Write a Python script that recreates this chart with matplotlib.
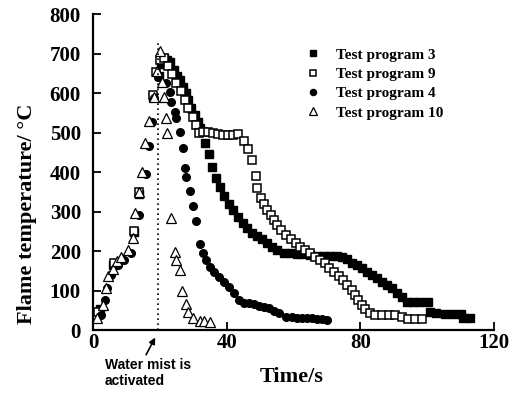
import matplotlib
matplotlib.use("Agg")
import matplotlib.pyplot as plt

plt.rcParams['font.family'] = ['Liberation Serif', 'DejaVu Serif']
plt.rcParams['font.weight'] = 'bold'

# Test program 3 (filled squares)
t3 = [1.9, 6.0, 12.1, 13.7, 17.7, 19.5, 20.3, 21.0, 22.0, 23.0, 24.0, 25.0, 25.8, 26.8, 27.6, 28.3, 29.3, 30.3, 31.2, 31.8,
      33.3, 34.5, 35.4, 36.6, 37.8, 39.2, 40.5, 41.7, 43.2, 44.7, 46.1, 47.6, 49.1, 50.6, 52.1, 53.6, 55.1, 57.1, 59.1,
      61.0, 63.0, 65.0, 67.0, 69.0, 71.0, 73.0, 74.4, 75.9, 77.4, 78.9, 80.4, 81.9, 83.4, 84.9, 86.4, 87.8, 89.3, 90.8,
      92.3, 93.8, 95.8, 97.8, 100.3, 100.8, 102.7, 105.2, 107.7, 110.2, 110.7, 112.7]
T3 = [55, 165, 250, 345, 590, 645, 675, 690, 685, 680, 660, 645, 634, 617, 600, 583, 562, 545, 528, 511,
      473, 446, 414, 385, 362, 340, 320, 305, 288, 271, 258, 246, 239, 230, 222, 212, 203, 196, 195,
      193, 193, 191, 188, 188, 188, 188, 186, 180, 171, 165, 157, 148, 140, 132, 123, 115, 106, 94,
      85, 72, 72, 72, 72, 47, 43, 41, 41, 41, 30, 30]

# Test program 9 (open squares)
t9 = [1.5, 6.3, 12.1, 13.7, 17.7, 18.8, 19.8, 21.0, 22.2, 23.5, 24.8, 26.3, 27.3, 28.3, 29.8, 30.8, 31.5, 32.9, 34.3,
      35.7, 37.2, 38.7, 40.2, 41.7, 43.4, 45.0, 46.4, 47.6, 48.6, 49.1, 50.1, 51.1, 52.1, 53.1, 54.1, 55.1, 56.1, 57.6,
      59.1, 60.6, 62.0, 63.5, 65.0, 66.5, 68.0, 69.5, 70.5, 72.0, 73.5, 74.9, 75.9, 77.4, 78.4, 79.4, 80.4, 81.4, 82.9,
      84.4, 86.4, 88.4, 90.3, 92.3, 94.3, 96.3, 98.3]
T9 = [47, 170, 252, 351, 596, 654, 685, 690, 670, 650, 625, 606, 583, 562, 541, 520, 500, 503, 503,
      500, 497, 495, 495, 495, 497, 479, 458, 430, 391, 359, 334, 321, 305, 292, 279, 267, 254, 241,
      230, 220, 212, 203, 195, 186, 178, 170, 157, 148, 137, 127, 115, 102, 89, 77, 64, 53, 43,
      39, 39, 39, 39, 34, 29, 29, 29]

# Test program 4 (filled circles)
t4 = [2.4, 3.4, 4.0, 5.3, 7.3, 9.3, 11.3, 13.6, 15.9, 16.7, 17.4, 18.1, 19.3, 21.8, 22.8, 23.3, 24.3, 24.8, 25.8,
      26.8, 27.3, 27.8, 28.8, 29.8, 30.6, 31.8, 32.7, 33.7, 35.0, 36.2, 37.7, 39.2, 40.7, 42.2, 43.7, 45.1, 46.6, 48.1,
      49.6, 51.1, 52.6, 54.1, 55.6, 57.6, 59.5, 61.0, 62.5, 64.0, 65.5, 67.0, 68.5, 70.0]
T4 = [39, 77, 106, 140, 165, 178, 195, 292, 395, 467, 528, 587, 640, 625, 604, 579, 553, 537, 503,
      462, 410, 389, 353, 315, 277, 218, 195, 178, 161, 148, 136, 123, 110, 94, 77, 70, 68, 66,
      62, 60, 57, 49, 43, 34, 33, 32, 32, 31, 30, 29, 28, 27]

# Test program 10 (open triangles)
t10 = [1.2, 2.9, 3.8, 4.3, 5.8, 7.0, 8.3, 10.3, 11.8, 12.4, 13.7, 14.7, 15.4, 16.7, 18.0, 19.0, 19.8, 20.6, 21.1,
       21.6, 22.0, 23.3, 24.3, 24.8, 25.8, 26.6, 27.6, 28.3, 29.8, 31.8, 33.2, 35.0]
T10 = [30, 64, 106, 137, 155, 175, 186, 203, 233, 296, 350, 402, 473, 531, 591, 656, 708, 629, 591,
       537, 499, 285, 199, 178, 153, 99, 66, 47, 30, 24, 24, 22]

x_ticks = [0, 40, 80, 120]
y_ticks = [0, 100, 200, 300, 400, 500, 600, 700, 800]
activation_time = 19.3

fig = plt.figure(figsize=(5.21, 3.94), dpi=100)
ax = fig.add_axes([0.1793, 0.1617, 0.7689, 0.802])

ax.plot(t3, T3, 's', color='black', markersize=5.5, label='Test program 3', clip_on=False)
ax.plot(t9, T9, 's', markerfacecolor='white', markeredgecolor='black', markeredgewidth=1.1,
        markersize=6, label='Test program 9', clip_on=False)
ax.plot(t4, T4, 'o', color='black', markersize=5.5, label='Test program 4', clip_on=False)
ax.plot(t10, T10, '^', markerfacecolor='white', markeredgecolor='black', markeredgewidth=0.9,
        markersize=6.5, label='Test program 10', clip_on=False)

ax.plot([activation_time, activation_time], [0, 730], linestyle=(0, (1, 2)), color='black', linewidth=1.2)

ax.annotate('', xy=(activation_time - 0.4, -12), xytext=(15.4, -68), xycoords='data',
            arrowprops=dict(arrowstyle='-|>', color='black', lw=1.2, mutation_scale=9),
            annotation_clip=False)
ax.text(3.5, -70, 'Water mist is\nactivated', fontsize=10, fontweight='bold', va='top', ha='left',
        family=['Liberation Sans', 'DejaVu Sans'], linespacing=1.15, clip_on=False)

ax.set_xlim(0, 120)
ax.set_ylim(0, 800)
ax.set_xticks(x_ticks)
ax.set_yticks(y_ticks)
ax.set_xticklabels([str(v) for v in x_ticks], fontsize=15, fontweight='bold')
ax.set_yticklabels([str(v) for v in y_ticks], fontsize=15, fontweight='bold')
ax.tick_params(direction='in', length=6, width=1.3)
ax.tick_params(axis='y', pad=9)
ax.tick_params(axis='x', pad=2)
ax.spines['top'].set_visible(False)
ax.spines['right'].set_visible(False)
for s in ['left', 'bottom']:
    ax.spines[s].set_linewidth(1.6)

ax.set_xlabel('Time/s', fontsize=16, fontweight='bold')
ax.xaxis.set_label_coords(0.496, -0.115)
ax.set_ylabel('Flame temperature/ °C', fontsize=16, fontweight='bold')
ax.yaxis.set_label_coords(-0.14, 0.37)

leg = ax.legend(loc='upper left', bbox_to_anchor=(0.492, 0.937), frameon=False, fontsize=11,
                handletextpad=0.9, labelspacing=0.37, markerscale=0.8, handlelength=1.2)
for txt in leg.get_texts():
    txt.set_fontweight('bold')

fig.savefig('out.png', dpi=100)
